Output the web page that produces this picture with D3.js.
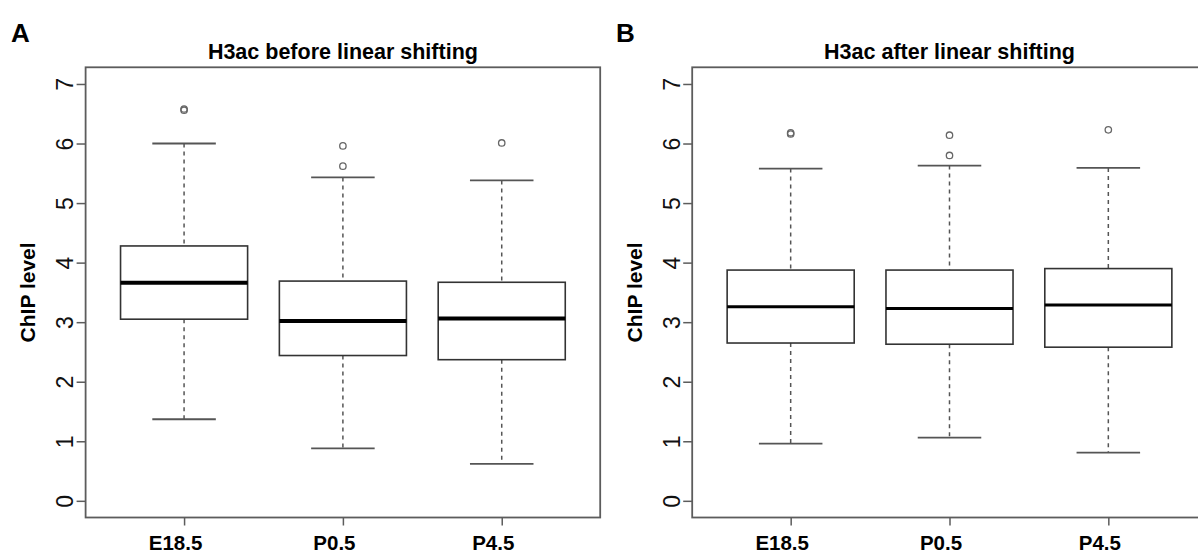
<!DOCTYPE html>
<html>
<head>
<meta charset="utf-8">
<script src="https://cdn.jsdelivr.net/npm/d3@7"></script>
<style>
    body { margin: 0; background: #fff; }
    svg { display: block; font-family: "Liberation Sans", Arial, sans-serif; }
</style>
</head>
<body>
<script>
/*--------- Données ------------------------------------*/

const groupes = ["E18.5", "P0.5", "P4.5"];
const yTicks = [0, 1, 2, 3, 4, 5, 6, 7];

// A : avant le décalage linéaire
const avant_min = [1.37, 0.88, 0.62];
const avant_q1 = [3.05, 2.44, 2.37];
const avant_median = [3.66, 3.02, 3.06];
const avant_q3 = [4.28, 3.69, 3.67];
const avant_max = [6.00, 5.43, 5.38];
const avant_outliers = [[6.56, 6.58], [5.62, 5.96], [6.01]];

// B : après le décalage linéaire
const apres_min = [0.96, 1.06, 0.81];
const apres_q1 = [2.65, 2.63, 2.58];
const apres_median = [3.26, 3.23, 3.29];
const apres_q3 = [3.875, 3.875, 3.90];
const apres_max = [5.58, 5.63, 5.59];
const apres_outliers = [[6.16, 6.18], [5.80, 6.14], [6.23]];

/*--------- Mise en page -----------------*/
var width = 1198;
var height = 554;
var top_plot = 67.3;
var bottom_plot = 517.5;

var svg = d3.select("body")
    .append("svg")
    .attr("width", width)
    .attr("height", height);

// y commun aux deux panneaux (ylim 0-7 avec extension de 4%)
var yscale = d3.scaleLinear()
    .domain([-0.28, 7.28])
    .range([bottom_plot, top_plot]);

function drawPanel(opt) {
    var xscale = d3.scaleLinear()
        .domain([0.38, 3.62])
        .range([opt.left, opt.right]);

    var g = svg.append("g");

    // lettre du panneau
    g.append("text")
        .attr("x", opt.letterX)
        .attr("y", 41.5)
        .style("font-size", "26px")
        .style("font-weight", "bold")
        .text(opt.letter);

    // titre
    g.append("text")
        .attr("x", (opt.left + opt.right) / 2)
        .attr("y", 59)
        .attr("text-anchor", "middle")
        .style("font-size", "21.5px")
        .style("font-weight", "bold")
        .text(opt.title);

    // cadre
    g.append("rect")
        .attr("x", opt.left)
        .attr("y", top_plot)
        .attr("width", opt.right - opt.left)
        .attr("height", bottom_plot - top_plot)
        .attr("fill", "none")
        .attr("stroke", "#5c5c5c")
        .attr("stroke-width", 1.8);

    // axe y
    var y_axis = d3.axisLeft(yscale)
        .tickValues(yTicks)
        .tickSize(9)
        .tickFormat(d3.format("d"));

    var gy = g.append("g")
        .attr("transform", "translate(" + opt.left + ",0)")
        .attr("font-size", 23)
        .call(y_axis);
    gy.select(".domain").remove();
    gy.selectAll(".tick line").attr("stroke", "#5c5c5c").attr("stroke-width", 1.5);
    gy.selectAll(".tick text")
        .attr("transform", "rotate(-90)")
        .attr("x", 0)
        .attr("y", -12.5)
        .attr("dy", null)
        .attr("text-anchor", "middle")
        .attr("fill", "#111")
        .attr("font-size", 23)
        .style("font-size", "23px")
        .style("font-family", "'Liberation Sans', Arial, sans-serif");

    // axe x
    var x_axis = d3.axisBottom(xscale)
        .tickValues([1, 2, 3])
        .tickSize(8)
        .tickPadding(10)
        .tickFormat(function (d) { return groupes[d - 1]; });

    var gx = g.append("g")
        .attr("transform", "translate(0," + bottom_plot + ")")
        .call(x_axis);
    gx.select(".domain").remove();
    gx.selectAll(".tick line").attr("stroke", "#5c5c5c").attr("stroke-width", 1.5);
    gx.selectAll(".tick text")
        .attr("dx", -9)
        .attr("fill", "#000")
        .style("font-size", "20.5px")
        .style("font-weight", "bold")
        .style("font-family", "'Liberation Sans', Arial, sans-serif");

    // titre de l'axe y
    g.append("text")
        .attr("transform", "translate(" + opt.labelX + "," + ((top_plot + bottom_plot) / 2) + ") rotate(-90)")
        .attr("text-anchor", "middle")
        .style("font-size", "21px")
        .style("font-weight", "bold")
        .text("ChIP level");

    // boîtes à moustaches
    var data = groupes.map(function (nom, i) {
        return {
            pos: i + 1, min: opt.min[i], q1: opt.q1[i], med: opt.median[i],
            q3: opt.q3[i], max: opt.max[i], out: opt.outliers[i]
        };
    });
    var bw = xscale(1.4) - xscale(1);   // demi-largeur de boîte
    var cw = xscale(1.2) - xscale(1);   // demi-largeur des traits

    var box = g.selectAll(".box")
        .data(data)
        .enter()
        .append("g")
        .attr("class", "box");

    // moustaches pointillées
    box.append("line")
        .attr("x1", function (d) { return xscale(d.pos); })
        .attr("x2", function (d) { return xscale(d.pos); })
        .attr("y1", function (d) { return yscale(d.max); })
        .attr("y2", function (d) { return yscale(d.q3); })
        .attr("stroke", "#555")
        .attr("stroke-width", 1.5)
        .attr("stroke-dasharray", "4,4");
    box.append("line")
        .attr("x1", function (d) { return xscale(d.pos); })
        .attr("x2", function (d) { return xscale(d.pos); })
        .attr("y1", function (d) { return yscale(d.q1); })
        .attr("y2", function (d) { return yscale(d.min); })
        .attr("stroke", "#555")
        .attr("stroke-width", 1.5)
        .attr("stroke-dasharray", "4,4");

    // extrémités
    box.selectAll(".cap")
        .data(function (d) { return [{ pos: d.pos, v: d.min }, { pos: d.pos, v: d.max }]; })
        .enter()
        .append("line")
        .attr("x1", function (d) { return xscale(d.pos) - cw; })
        .attr("x2", function (d) { return xscale(d.pos) + cw; })
        .attr("y1", function (d) { return yscale(d.v); })
        .attr("y2", function (d) { return yscale(d.v); })
        .attr("stroke", "#555")
        .attr("stroke-width", 1.8);

    // boîte
    box.append("rect")
        .attr("x", function (d) { return xscale(d.pos) - bw; })
        .attr("y", function (d) { return yscale(d.q3); })
        .attr("width", 2 * bw)
        .attr("height", function (d) { return yscale(d.q1) - yscale(d.q3); })
        .attr("fill", "#fff")
        .attr("stroke", "#333")
        .attr("stroke-width", 1.6);

    // médiane
    box.append("line")
        .attr("x1", function (d) { return xscale(d.pos) - bw; })
        .attr("x2", function (d) { return xscale(d.pos) + bw; })
        .attr("y1", function (d) { return yscale(d.med); })
        .attr("y2", function (d) { return yscale(d.med); })
        .attr("stroke", "#000")
        .attr("stroke-width", opt.medW);

    // valeurs extrêmes
    box.selectAll(".out")
        .data(function (d) { return d.out.map(function (v) { return { pos: d.pos, v: v }; }); })
        .enter()
        .append("circle")
        .attr("cx", function (d) { return xscale(d.pos); })
        .attr("cy", function (d) { return yscale(d.v); })
        .attr("r", 3.2)
        .attr("fill", "none")
        .attr("stroke", "#666")
        .attr("stroke-width", 1.3);
}

drawPanel({
    left: 85.6, right: 600.2, letter: "A", letterX: 11, labelX: 35,
    title: "H3ac before linear shifting",
    min: avant_min, q1: avant_q1, median: avant_median, q3: avant_q3,
    max: avant_max, outliers: avant_outliers, medW: 4
});

drawPanel({
    left: 692.2, right: 1206.8, letter: "B", letterX: 616, labelX: 642,
    title: "H3ac after linear shifting",
    min: apres_min, q1: apres_q1, median: apres_median, q3: apres_q3,
    max: apres_max, outliers: apres_outliers, medW: 3
});
</script>
</body>
</html>
